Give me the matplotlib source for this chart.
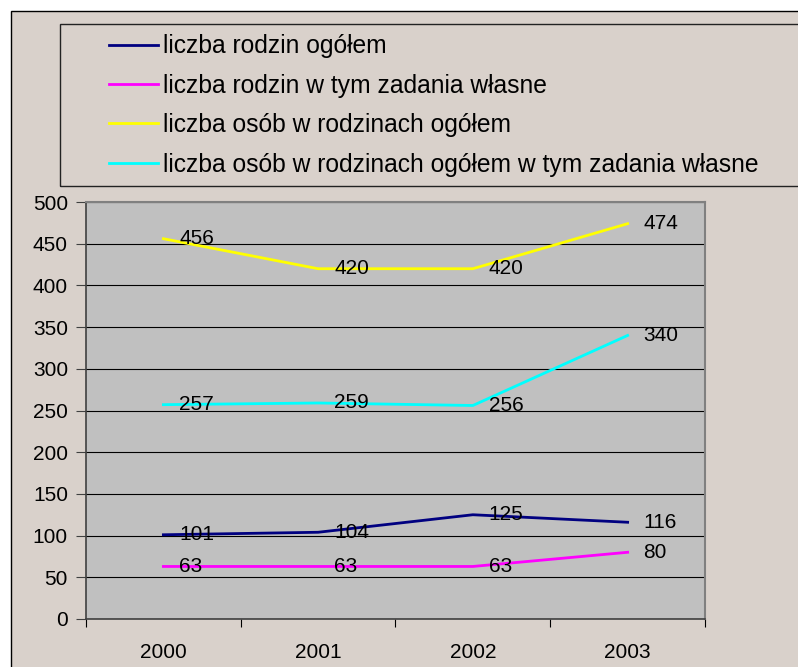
import matplotlib.pyplot as plt
from matplotlib.patches import Rectangle

# chart data
years = ["2000", "2001", "2002", "2003"]
rodziny_ogolem = [101, 104, 125, 116]
rodziny_wlasne = [63, 63, 63, 80]
osoby_ogolem = [456, 420, 420, 474]
osoby_wlasne = [257, 259, 256, 340]

labels = ["liczba rodzin ogółem",
          "liczba rodzin w tym zadania własne",
          "liczba osób w rodzinach ogółem",
          "liczba osób w rodzinach ogółem w tym zadania własne"]
colors = ["#000080", "#FF00FF", "#FFFF00", "#00FFFF"]

plt.rcParams['font.family'] = ['Liberation Sans', 'DejaVu Sans']
plt.rcParams['font.size'] = 15

fig = plt.figure(figsize=(7.98, 6.67), dpi=100)
fig.patch.set_facecolor("white")

# outer chart area and legend box
fig.add_artist(Rectangle((11 / 798, -0.05), 1.1, 1.05 - 11 / 667, transform=fig.transFigure,
                         facecolor="#D9D1CB", edgecolor="black", lw=1, zorder=0))
fig.add_artist(Rectangle((60 / 798, 1 - 186 / 667), 1.1, (186 - 24) / 667, transform=fig.transFigure,
                         facecolor="none", edgecolor="#222222", lw=1, zorder=1))

ax = fig.add_axes([86 / 798, 1 - 619 / 667, (705 - 86) / 798, (619 - 202) / 667])
ax.set_facecolor("#C0C0C0")

x = list(range(len(years)))
series = [rodziny_ogolem, rodziny_wlasne, osoby_ogolem, osoby_wlasne]
for vals, col, lab in zip(series, colors, labels):
    ax.plot(x, vals, color=col, lw=2, label=lab, zorder=3)
    for xi, v in zip(x, vals):
        ax.annotate(str(v), (xi, v), xytext=(16, 0), textcoords="offset pixels",
                    ha="left", va="center", fontsize=15, color="black", zorder=4)

ax.set_xlim(-0.5, 3.5)
ax.set_ylim(0, 500)
ax.set_yticks(range(0, 501, 50))
ax.yaxis.grid(True, color="black", lw=0.8)
ax.set_axisbelow(True)

ax.set_xticks([-0.5, 0.5, 1.5, 2.5, 3.5])
ax.set_xticklabels([])
ax.set_xticks(x, minor=True)
ax.set_xticklabels(years, minor=True)
ax.tick_params(axis="x", which="major", direction="out", length=6, color="black")
ax.tick_params(axis="x", which="minor", length=0, pad=17)
ax.tick_params(axis="y", direction="out", length=7, pad=6, color="#404040")

for s in ["top", "right"]:
    ax.spines[s].set_color("#808080")
    ax.spines[s].set_linewidth(1.5)
for s in ["left", "bottom"]:
    ax.spines[s].set_color("#404040")
    ax.spines[s].set_linewidth(1.2)

fig.legend(loc="upper left", bbox_to_anchor=(87 / 798, 1 - 12 / 667), frameon=False,
           handlelength=2.0, handletextpad=0.2, labelspacing=0.63, fontsize=17.7)

fig.savefig("out.png", dpi=100)
